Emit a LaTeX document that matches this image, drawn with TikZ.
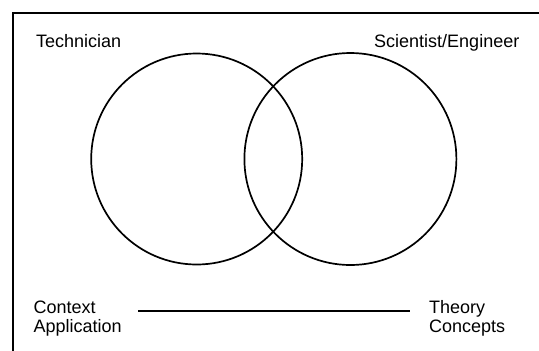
\documentclass[tikz,border=0pt]{standalone}
\usepackage{fontspec}
\setmainfont{Liberation Sans}
\begin{document}
\begin{tikzpicture}[x=1bp,y=-1bp,
  lbl/.style={anchor=base west,inner sep=0pt,font=\fontsize{18bp}{21bp}\selectfont},
  ring/.style={draw,line width=1.7bp},
  frame/.style={draw,line width=1.9bp}]
\useasboundingbox (0,0) rectangle (539,350);
\draw[frame] (13.3,352) -- (13.3,13.3) -- (541,13.3);
\draw[ring] (196.7,159) circle[radius=105.5];
\draw[ring] (350.4,159) circle[radius=106];
\node[lbl] (tech) at (36,47) {Technician};
\node[lbl] (sci) at (374,47) {Scientist/Engineer};
\node[lbl] (ctx) at (33.5,313) {Context};
\node[lbl] (app) at (33.5,332) {Application};
\node[lbl] (thy) at (429,313) {Theory};
\node[lbl] (con) at (429,332) {Concepts};
\coordinate (la) at (138,310.7);
\coordinate (lb) at (410,310.7);
\draw[line width=1.7bp] (la) -- (lb);
\end{tikzpicture}
\end{document}
